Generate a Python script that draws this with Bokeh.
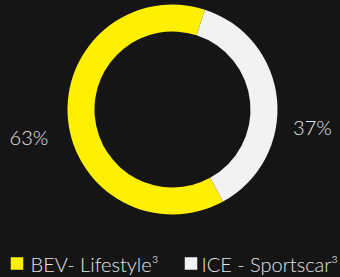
import math
from bokeh.plotting import figure
from bokeh.models import Range1d, ColumnDataSource
from bokeh.core.properties import value
from bokeh.embed import file_html
from bokeh.resources import INLINE

# ---- data ----
categories = ["BEV- Lifestyle³", "ICE - Sportscar³"]
shares = [63, 37]
share_labels = ["63%", "37%"]
colors = ["#FFF000", "#F2F2F2"]

# ---- layout (reference pixel space 340 x 277, y measured downward) ----
REF_W, REF_H = 340, 277
W, H = 340, 277
S = W / REF_W
CX, CY = 172, 109
R_OUT, R_IN = 105, 78
START_DEG = 72.0  # math angle where first slice starts (anticlockwise)
LABEL_POS = [(28.5, 136), (312, 126)]
LEG_SQ_X = [16.5, 190.5]
LEG_TXT_X = [30, 201]
LEG_Y = 263
FONT = "Lato Light"
BG = "#151515"
TXT = "#E4E4E4"

def fy(y):
    return REF_H - y

p = figure(width=W, height=H, output_backend="svg", toolbar_location=None,
           x_range=Range1d(0, REF_W), y_range=Range1d(0, REF_H),
           background_fill_color=BG, border_fill_color=BG, outline_line_color=None,
           min_border=0)
p.axis.visible = False
p.grid.visible = False

total = sum(shares)
starts, ends = [], []
a = math.radians(START_DEG)
for v in shares:
    starts.append(a)
    a += 2 * math.pi * v / total
    ends.append(a)

src = ColumnDataSource(dict(start=starts, end=ends, color=colors))
p.annular_wedge(x=CX, y=fy(CY), inner_radius=R_IN, outer_radius=R_OUT,
                start_angle="start", end_angle="end", fill_color="color",
                line_color=None, source=src)

lab = ColumnDataSource(dict(x=[q[0] for q in LABEL_POS], y=[fy(q[1]) for q in LABEL_POS],
                            t=share_labels))
p.text(x="x", y="y", text="t", source=lab, text_font=value(FONT),
       text_font_size=f"{20*S:.1f}px", text_color=TXT, text_align="center",
       text_baseline="middle")

leg_sq = ColumnDataSource(dict(x=LEG_SQ_X, y=[fy(LEG_Y)] * 2, color=colors))
p.scatter(x="x", y="y", source=leg_sq, marker="square", size=12.5 * S,
          fill_color="color", line_color=None)
leg_t = ColumnDataSource(dict(x=LEG_TXT_X, y=[fy(LEG_Y)] * 2, t=categories))
p.text(x="x", y="y", text="t", source=leg_t, text_font=value(FONT),
       text_font_size=f"{20*S:.1f}px", text_color=TXT, text_align="left",
       text_baseline="middle")

page_style = "{% block postamble %}<style>html, body { background: " + BG + "; }</style>{% endblock %}"
open("out.html", "w").write(file_html(p, INLINE, template=page_style))
